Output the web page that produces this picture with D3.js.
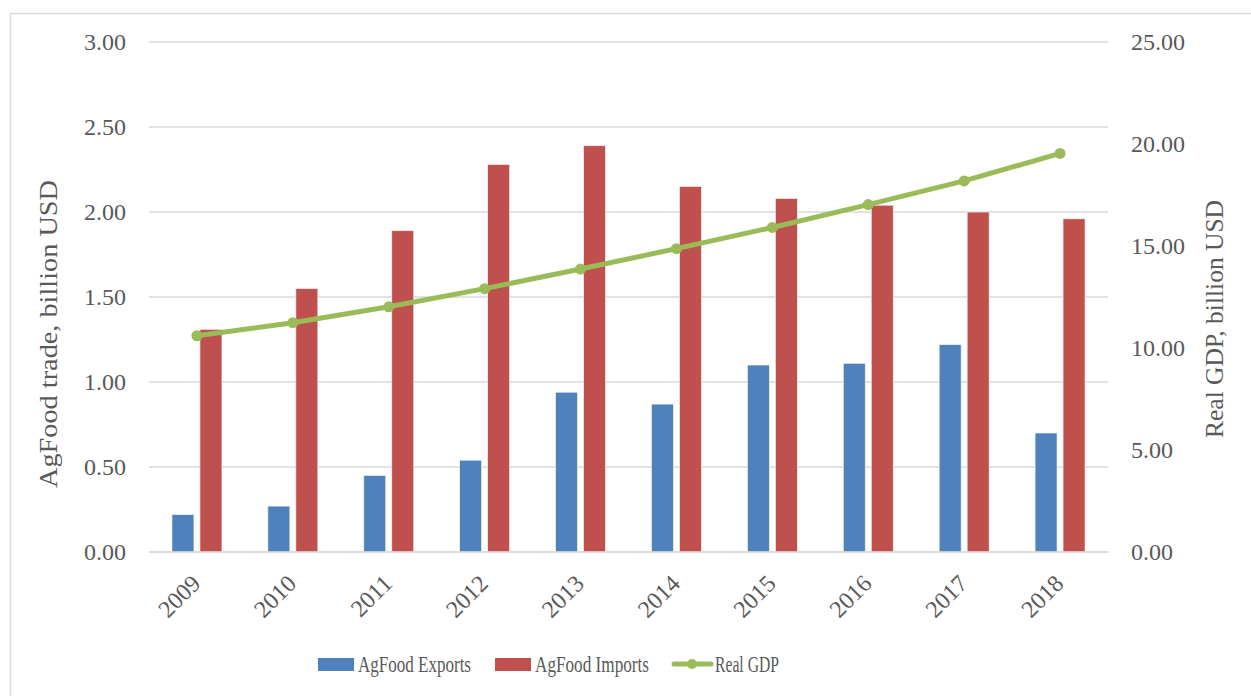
<!DOCTYPE html>
<html>
<head>
<meta charset="utf-8">
<script src="https://cdn.jsdelivr.net/npm/d3@7"></script>
<style>
  body { margin: 0; background: #fff; }
  text { font-family: "Liberation Serif", serif; fill: #595959; }
</style>
</head>
<body>
<div id="chart"></div>
<script>
// Данные
const years = ["2009", "2010", "2011", "2012", "2013", "2014", "2015", "2016", "2017", "2018"];
const exportsVals = [0.22, 0.27, 0.45, 0.54, 0.94, 0.87, 1.10, 1.11, 1.22, 0.70];
const importsVals = [1.31, 1.55, 1.89, 2.28, 2.39, 2.15, 2.08, 2.04, 2.00, 1.96];
const gdpVals = [10.60, 11.24, 12.02, 12.91, 13.87, 14.87, 15.91, 17.03, 18.19, 19.54];
const leftTicks = [0, 0.5, 1, 1.5, 2, 2.5, 3];
const rightTicks = [0, 5, 10, 15, 20, 25];

const W = 1251, H = 696;
const margin = { top: 42, right: 143, bottom: 144, left: 149 },
      width = W - margin.left - margin.right,
      height = H - margin.top - margin.bottom;

const svgRoot = d3.select("#chart")
  .append("svg")
  .attr("width", W)
  .attr("height", H);

// Рамка вокруг диаграммы
svgRoot.append("rect")
  .attr("x", 10.5).attr("y", 13.5)
  .attr("width", W).attr("height", H)
  .attr("fill", "none")
  .attr("stroke", "#d9d9d9")
  .attr("stroke-width", 1.5);

const svg = svgRoot.append("g")
  .attr("transform", `translate(${margin.left},${margin.top})`);

// Шкалы
const x0 = d3.scaleBand().domain(years).range([0, width]).padding(0);
const groupW = 50;
const x1 = d3.scaleBand().domain(["exp", "imp"]).range([0, groupW]).paddingInner(0.214).paddingOuter(0);
const yLeft = d3.scaleLinear().domain([0, 3]).range([height, 0]);
const yRight = d3.scaleLinear().domain([0, 25]).range([height, 0]);

// Сетка
svg.append("g")
  .selectAll("line")
  .data(leftTicks)
  .join("line")
  .attr("x1", 0).attr("x2", width)
  .attr("y1", d => yLeft(d)).attr("y2", d => yLeft(d))
  .attr("stroke", "#d9d9d9")
  .attr("stroke-width", 1.5);

// Левая ось
const yAxisL = d3.axisLeft(yLeft).tickValues(leftTicks).tickFormat(d3.format(".2f")).tickSize(0).tickPadding(23);
svg.append("g").call(yAxisL)
  .call(g => g.select(".domain").remove())
  .selectAll("text")
  .style("font-size", "24px")
  .attr("fill", "#595959");

// Правая ось
const yAxisR = d3.axisRight(yRight).tickValues(rightTicks).tickFormat(d3.format(".2f")).tickSize(0).tickPadding(23);
svg.append("g")
  .attr("transform", `translate(${width},0)`)
  .call(yAxisR)
  .call(g => g.select(".domain").remove())
  .selectAll("text")
  .style("font-size", "24px")
  .attr("fill", "#595959");

// Ось X (подписи под углом 45°)
const xAxis = d3.axisBottom(x0).tickSize(0);
svg.append("g")
  .attr("transform", `translate(0,${height})`)
  .call(xAxis)
  .call(g => g.select(".domain").remove())
  .selectAll("text")
  .style("font-size", "24px")
  .attr("fill", "#595959")
  .attr("text-anchor", "end")
  .attr("x", 0).attr("y", 0)
  .attr("dy", "0.35em")
  .attr("transform", "translate(-1,27) rotate(-45)");

// Столбцы
const groupOffset = (x0.bandwidth() - groupW) / 2;
const series = [
  { key: "exp", values: exportsVals, color: "#4f81bd" },
  { key: "imp", values: importsVals, color: "#c0504d" }
];
series.forEach(s => {
  svg.append("g")
    .selectAll("rect")
    .data(years.map((y, i) => ({ year: y, v: s.values[i] })))
    .join("rect")
    .attr("x", d => x0(d.year) + groupOffset + x1(s.key))
    .attr("y", d => yLeft(d.v))
    .attr("width", x1.bandwidth())
    .attr("height", d => height - yLeft(d.v))
    .attr("fill", s.color)
    .attr("stroke", "#f2f2f2")
    .attr("stroke-width", 0.7);
});

// Нулевая линия поверх столбцов
svg.append("line")
  .attr("x1", 0).attr("x2", width)
  .attr("y1", yLeft(0)).attr("y2", yLeft(0))
  .attr("stroke", "#d9d9d9").attr("stroke-width", 1.5);

// Линия ВВП
const gdpData = years.map((y, i) => ({ year: y, v: gdpVals[i] }));
const line = d3.line()
  .x(d => x0(d.year) + x0.bandwidth() / 2)
  .y(d => yRight(d.v));
svg.append("path")
  .datum(gdpData)
  .attr("d", line)
  .attr("fill", "none")
  .attr("stroke", "#9bbb59")
  .attr("stroke-width", 5)
  .attr("stroke-linecap", "round");
svg.append("g")
  .selectAll("circle")
  .data(gdpData)
  .join("circle")
  .attr("cx", d => x0(d.year) + x0.bandwidth() / 2)
  .attr("cy", d => yRight(d.v))
  .attr("r", 5.5)
  .attr("fill", "#9bbb59");

// Подписи осей
svgRoot.append("text")
  .attr("transform", "translate(57,334) rotate(-90)")
  .attr("text-anchor", "middle")
  .style("font-size", "26px")
  .attr("textLength", 308).attr("lengthAdjust", "spacingAndGlyphs")
  .attr("fill", "#404040")
  .text("AgFood trade, billion USD");

svgRoot.append("text")
  .attr("transform", "translate(1223,319) rotate(-90)")
  .attr("text-anchor", "middle")
  .style("font-size", "25px")
  .attr("textLength", 238).attr("lengthAdjust", "spacingAndGlyphs")
  .attr("fill", "#404040")
  .text("Real GDP, billion USD");

// Легенда
const legend = svgRoot.append("g");
const ly = 664;
legend.append("rect").attr("x", 318).attr("y", ly - 6).attr("width", 36).attr("height", 13).attr("fill", "#4f81bd");
legend.append("text").attr("x", 358).attr("y", ly + 8).style("font-size", "23px")
  .attr("textLength", 113).attr("lengthAdjust", "spacingAndGlyphs").text("AgFood Exports");
legend.append("rect").attr("x", 495).attr("y", ly - 6).attr("width", 36).attr("height", 13).attr("fill", "#c0504d");
legend.append("text").attr("x", 535).attr("y", ly + 8).style("font-size", "23px")
  .attr("textLength", 114).attr("lengthAdjust", "spacingAndGlyphs").text("AgFood Imports");
legend.append("line").attr("x1", 674).attr("x2", 711).attr("y1", ly).attr("y2", ly)
  .attr("stroke", "#9bbb59").attr("stroke-width", 5).attr("stroke-linecap", "round");
legend.append("circle").attr("cx", 692).attr("cy", ly).attr("r", 5).attr("fill", "#9bbb59");
legend.append("text").attr("x", 715).attr("y", ly + 8).style("font-size", "23px")
  .attr("textLength", 64).attr("lengthAdjust", "spacingAndGlyphs").text("Real GDP");
</script>
</body>
</html>
